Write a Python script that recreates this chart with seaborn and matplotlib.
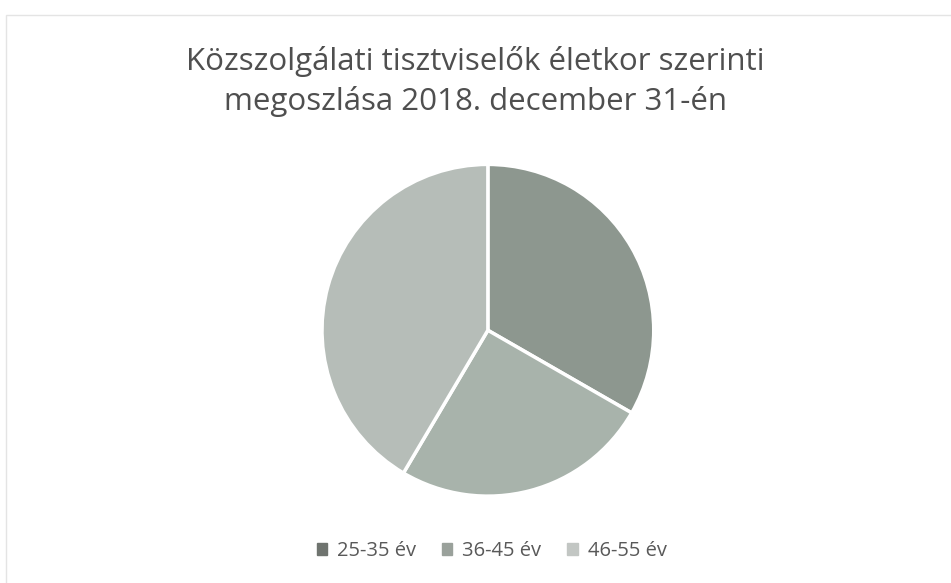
import matplotlib
matplotlib.use("Agg")
import matplotlib.pyplot as plt
import seaborn as sns

# data (shares in percent)
age_groups = ["25-35 év", "36-45 év", "46-55 év"]
shares = [33.3, 25.2, 41.5]
slice_colors = ["#8d978f", "#a8b3ab", "#b6bdb8"]
legend_colors = ["#6f746f", "#9aa19b", "#c2c6c3"]

sns.set_theme(style="white")
plt.rcParams["font.family"] = ["Open Sans", "DejaVu Sans"]

fig = plt.figure(figsize=(9.51, 5.83), dpi=100)
ax = fig.add_axes([0.3385, 0.149, 0.349, 0.569])

wedges, _ = ax.pie(shares, colors=slice_colors, startangle=90, counterclock=False,
                   wedgeprops=dict(edgecolor="white", linewidth=2.5))
ax.set_aspect("equal")
ax.set_xlim(-1, 1)
ax.set_ylim(-1, 1)

fig.text(0.5, 0.86, "Közszolgálati tisztviselők életkor szerinti\nmegoszlása 2018. december 31-én",
         ha="center", va="center", fontsize=22.5, color="#4f4f4f", linespacing=1.4)

# legend with its own marker colours
handles = [plt.Rectangle((0, 0), 1, 1, color=c) for c in legend_colors]
fig.legend(handles, age_groups, loc="center", bbox_to_anchor=(0.517, 0.055), ncol=3,
           frameon=False, fontsize=14.5, handlelength=0.5, handleheight=0.5,
           handletextpad=0.5, columnspacing=1.3, labelcolor="#595959")

# faint chart border
fig.add_artist(plt.Rectangle((0.006, -0.01), 1.0, 0.985, transform=fig.transFigure,
                             fill=False, edgecolor="#e4e4e4", linewidth=1))

fig.savefig("out.png", dpi=100, facecolor="white")
